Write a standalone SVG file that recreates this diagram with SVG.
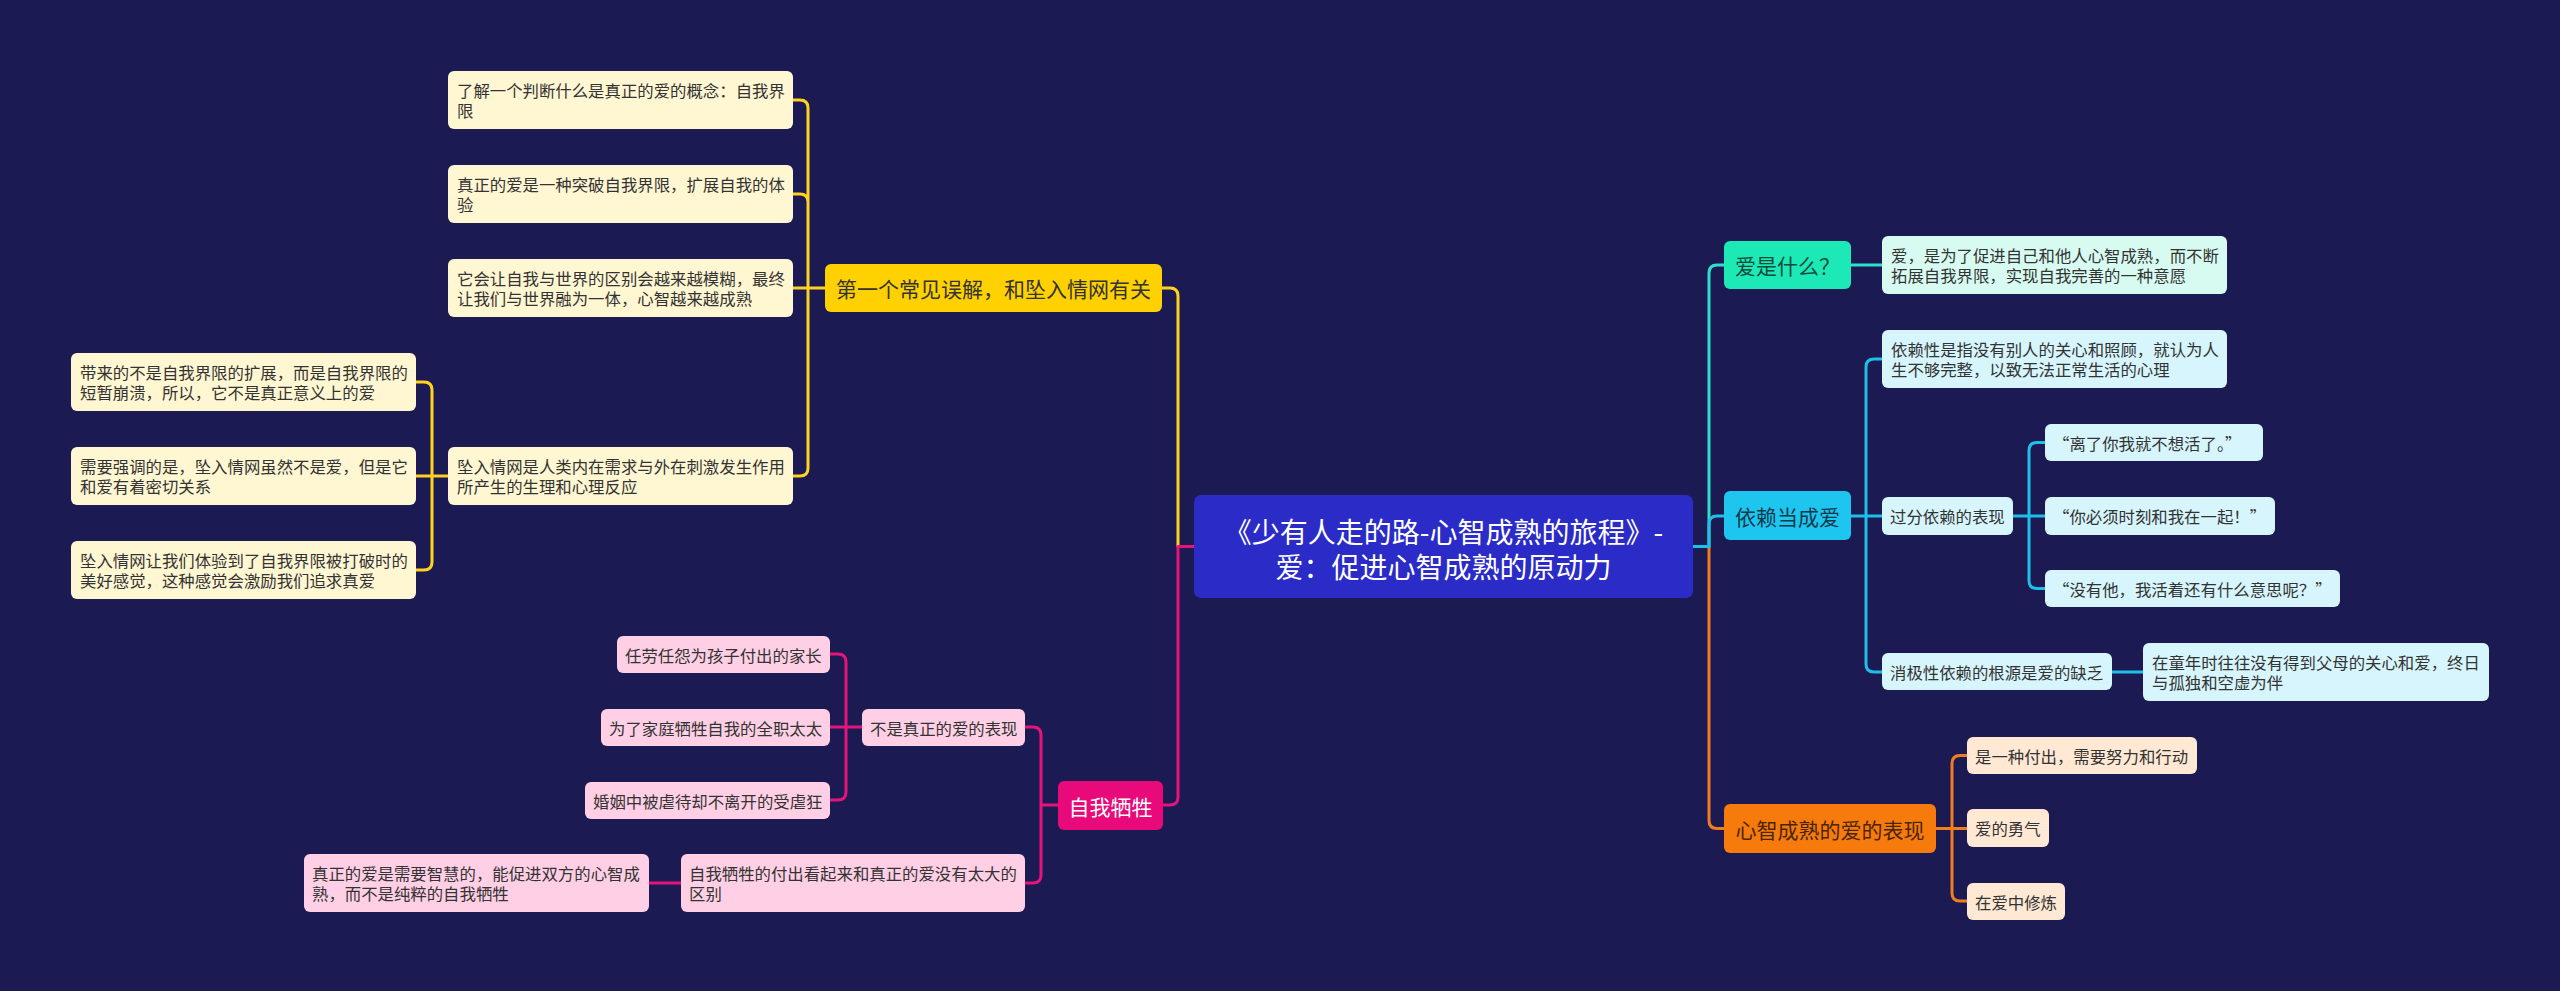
<svg xmlns="http://www.w3.org/2000/svg" width="2560" height="991" viewBox="0 0 2560 991">
<defs>
<style>
text{font-family:"Noto Sans CJK SC","Noto Sans",sans-serif;dominant-baseline:central}
.c{fill:#333333;font-size:16.4px}
.m{font-size:21px;text-anchor:middle}
.con{fill:none;stroke-width:3;stroke-linecap:round;stroke-linejoin:round}
.y{stroke:#ffd21f}.p{stroke:#e5147a}.t{stroke:#2ee0cc}.b{stroke:#1ec0ea}.o{stroke:#f07d1e}
.cy{fill:#fff6d2}.cp{fill:#ffd0e5}.ct{fill:#d8fbf1}.cb{fill:#d6f5fc}.co{fill:#ffe9d4}
</style>
</defs>
<rect x="0" y="0" width="2560" height="991" fill="#1b1a52"/>
<g id="connectors">
<path class="con y" d="M1193,546.5 H1178 V296 Q1178,288 1170,288 H1162"/>
<path class="con y" d="M825,288 H808 M808,288 V108 Q808,100 800,100 H793 M808,288 V202 Q808,194 800,194 H793 M808,288 H793 M808,288 V468 Q808,476 800,476 H793"/>
<path class="con y" d="M448,476 H432 M432,476 V390 Q432,382 424,382 H416 M432,476 H416 M432,476 V562 Q432,570 424,570 H416"/>
<path class="con p" d="M1193,546.5 H1178 V797 Q1178,805 1170,805 H1163"/>
<path class="con p" d="M1058,805 H1041 M1041,805 V735 Q1041,727 1033,727 H1025 M1041,805 V875 Q1041,883 1033,883 H1025"/>
<path class="con p" d="M862,727 H846 M846,727 V662 Q846,654 838,654 H830 M846,727 H830 M846,727 V792 Q846,800 838,800 H830"/>
<path class="con p" d="M681,883 H649"/>
<path class="con t" d="M1693,546.5 H1709 V273 Q1709,265 1717,265 H1724 M1851,265 H1882"/>
<path class="con o" d="M1693,546.5 H1709 V820.5 Q1709,828.5 1717,828.5 H1724"/>
<path class="con b" d="M1693,546.5 H1709 V524 Q1709,516 1717,516 H1724"/>
<path class="con b" d="M1851,516 H1866 M1866,516 V367 Q1866,359 1874,359 H1882 M1866,516 H1882 M1866,516 V664 Q1866,672 1874,672 H1882"/>
<path class="con b" d="M2013,516 H2029 M2029,516 V450.5 Q2029,442.5 2037,442.5 H2045 M2029,516 H2045 M2029,516 V580.5 Q2029,588.5 2037,588.5 H2045"/>
<path class="con b" d="M2112,672 H2143"/>
<path class="con o" d="M1936,828.5 H1952 M1952,828.5 V763.5 Q1952,755.5 1960,755.5 H1967 M1952,828.5 H1967 M1952,828.5 V893 Q1952,901 1960,901 H1967"/>
</g>
<g id="root">
<rect x="1194" y="495" width="499" height="103" rx="7" fill="#2b2bc8"/>
<text x="1443.5" y="531" fill="#ffffff" font-size="28" text-anchor="middle">《少有人走的路-心智成熟的旅程》-</text>
<text x="1443.5" y="566" fill="#ffffff" font-size="28" text-anchor="middle">爱：促进心智成熟的原动力</text>
</g>
<g id="n-y">
<rect x="825" y="264" width="337" height="48" rx="6" fill="#ffd100"/>
<text class="m" x="993.5" y="288" fill="#333333">第一个常见误解，和坠入情网有关</text>
</g>
<g id="n-a1"><rect class="cy" x="448" y="71" width="345" height="58" rx="6"/><text class="c" x="457" y="90">了解一个判断什么是真正的爱的概念：自我界</text><text class="c" x="457" y="110">限</text></g>
<g id="n-a2"><rect class="cy" x="448" y="165" width="345" height="58" rx="6"/><text class="c" x="457" y="184">真正的爱是一种突破自我界限，扩展自我的体</text><text class="c" x="457" y="204">验</text></g>
<g id="n-a3"><rect class="cy" x="448" y="259" width="345" height="58" rx="6"/><text class="c" x="457" y="278">它会让自我与世界的区别会越来越模糊，最终</text><text class="c" x="457" y="298">让我们与世界融为一体，心智越来越成熟</text></g>
<g id="n-a4"><rect class="cy" x="448" y="447" width="345" height="58" rx="6"/><text class="c" x="457" y="466">坠入情网是人类内在需求与外在刺激发生作用</text><text class="c" x="457" y="486">所产生的生理和心理反应</text></g>
<g id="n-b1"><rect class="cy" x="71" y="353" width="345" height="58" rx="6"/><text class="c" x="80" y="372">带来的不是自我界限的扩展，而是自我界限的</text><text class="c" x="80" y="392">短暂崩溃，所以，它不是真正意义上的爱</text></g>
<g id="n-b2"><rect class="cy" x="71" y="447" width="345" height="58" rx="6"/><text class="c" x="80" y="466">需要强调的是，坠入情网虽然不是爱，但是它</text><text class="c" x="80" y="486">和爱有着密切关系</text></g>
<g id="n-b3"><rect class="cy" x="71" y="541" width="345" height="58" rx="6"/><text class="c" x="80" y="560">坠入情网让我们体验到了自我界限被打破时的</text><text class="c" x="80" y="580">美好感觉，这种感觉会激励我们追求真爱</text></g>
<g id="n-p">
<rect x="1058" y="781" width="105" height="49" rx="6" fill="#e8097b"/>
<text class="m" x="1110.5" y="805.5" fill="#ffffff">自我牺牲</text>
</g>
<g id="n-p1"><rect class="cp" x="862" y="709" width="163" height="37" rx="6"/><text class="c" x="870" y="727.5">不是真正的爱的表现</text></g>
<g id="n-p2"><rect class="cp" x="617" y="636" width="213" height="37" rx="6"/><text class="c" x="625" y="654.5">任劳任怨为孩子付出的家长</text></g>
<g id="n-p3"><rect class="cp" x="601" y="709" width="229" height="37" rx="6"/><text class="c" x="609" y="727.5">为了家庭牺牲自我的全职太太</text></g>
<g id="n-p4"><rect class="cp" x="585" y="782" width="245" height="37" rx="6"/><text class="c" x="593" y="800.5">婚姻中被虐待却不离开的受虐狂</text></g>
<g id="n-p5"><rect class="cp" x="681" y="854" width="344" height="58" rx="6"/><text class="c" x="689" y="873">自我牺牲的付出看起来和真正的爱没有太大的</text><text class="c" x="689" y="893">区别</text></g>
<g id="n-p6"><rect class="cp" x="304" y="854" width="345" height="58" rx="6"/><text class="c" x="312" y="873">真正的爱是需要智慧的，能促进双方的心智成</text><text class="c" x="312" y="893">熟，而不是纯粹的自我牺牲</text></g>
<g id="n-t">
<rect x="1724" y="241" width="127" height="48" rx="6" fill="#1de9b6"/>
<text class="m" x="1787.5" y="265" fill="#0e4a3c">爱是什么？</text>
</g>
<g id="n-t1"><rect class="ct" x="1882" y="236" width="345" height="58" rx="6"/><text class="c" x="1891" y="255">爱，是为了促进自己和他人心智成熟，而不断</text><text class="c" x="1891" y="275">拓展自我界限，实现自我完善的一种意愿</text></g>
<g id="n-b">
<rect x="1724" y="491" width="127" height="49" rx="6" fill="#1ec6ef"/>
<text class="m" x="1787.5" y="515.5" fill="#0c3a4c">依赖当成爱</text>
</g>
<g id="n-c1"><rect class="cb" x="1882" y="330" width="345" height="58" rx="6"/><text class="c" x="1891" y="349">依赖性是指没有别人的关心和照顾，就认为人</text><text class="c" x="1891" y="369">生不够完整，以致无法正常生活的心理</text></g>
<g id="n-c2"><rect class="cb" x="1882" y="497" width="131" height="38" rx="6"/><text class="c" x="1890" y="516">过分依赖的表现</text></g>
<g id="n-c3"><rect class="cb" x="1882" y="653" width="230" height="37" rx="6"/><text class="c" x="1890" y="671.5">消极性依赖的根源是爱的缺乏</text></g>
<g id="n-q1"><rect class="cb" x="2045" y="424" width="218" height="37" rx="6"/><text class="c" x="2053" y="442.5">“离了你我就不想活了。”</text></g>
<g id="n-q2"><rect class="cb" x="2045" y="497" width="230" height="38" rx="6"/><text class="c" x="2053" y="516">“你必须时刻和我在一起！”</text></g>
<g id="n-q3"><rect class="cb" x="2045" y="570" width="295" height="37" rx="6"/><text class="c" x="2053" y="588.5">“没有他，我活着还有什么意思呢？”</text></g>
<g id="n-c4"><rect class="cb" x="2143" y="643" width="346" height="58" rx="6"/><text class="c" x="2152" y="662">在童年时往往没有得到父母的关心和爱，终日</text><text class="c" x="2152" y="682">与孤独和空虚为伴</text></g>
<g id="n-o">
<rect x="1724" y="804" width="212" height="49" rx="6" fill="#f77a0c"/>
<text class="m" x="1830" y="828.5" fill="#4a2608">心智成熟的爱的表现</text>
</g>
<g id="n-o1"><rect class="co" x="1967" y="737" width="230" height="37" rx="6"/><text class="c" x="1975" y="755.5">是一种付出，需要努力和行动</text></g>
<g id="n-o2"><rect class="co" x="1967" y="809" width="82" height="38" rx="6"/><text class="c" x="1975" y="828">爱的勇气</text></g>
<g id="n-o3"><rect class="co" x="1967" y="883" width="98" height="37" rx="6"/><text class="c" x="1975" y="901.5">在爱中修炼</text></g>
</svg>
